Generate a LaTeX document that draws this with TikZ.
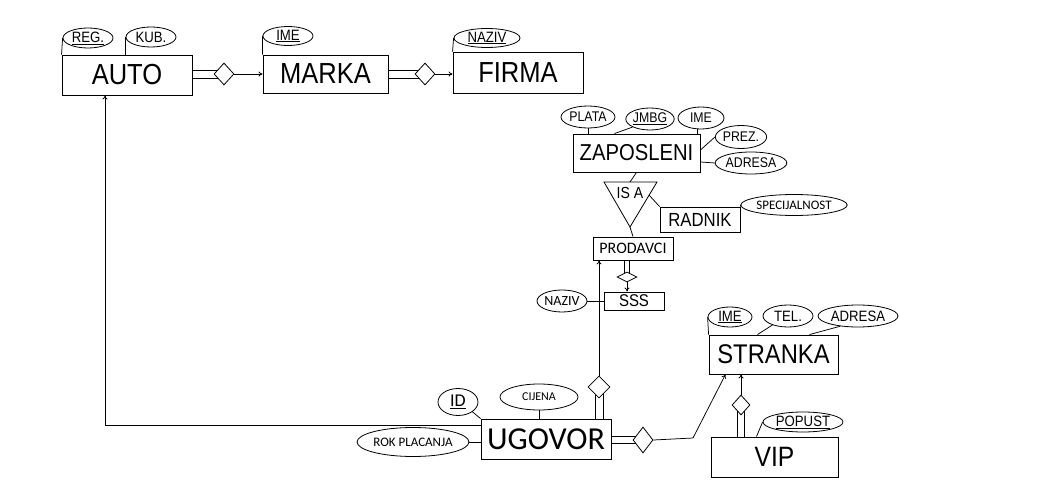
\documentclass[tikz,border=0pt]{standalone}
\usepackage{fontspec}
\setmainfont{Liberation Sans}[FakeStretch=0.88]
\newfontfamily\calfont{Carlito}
\usetikzlibrary{shapes.geometric,backgrounds,calc,arrows.meta}
\begin{document}
\begin{tikzpicture}[x=1pt,y=-1pt,
  every path/.style={line width=0.75pt},
  ent/.style={draw,fill=white,rectangle,inner sep=0pt,line width=0.9pt},
  attr/.style={draw,fill=white,ellipse,inner sep=0pt,line width=0.8pt},
  rel/.style={draw,fill=white,diamond,inner sep=0pt,line width=0.8pt},
  arr/.style={-{To[length=4pt,width=5pt]}}]
\useasboundingbox (0,0) rectangle (1037,497);
% entities
\node[ent,minimum width=130pt,minimum height=40pt,font=\fontsize{29}{29}\selectfont] (auto) at (127,75) {AUTO};
\node[ent,minimum width=125pt,minimum height=38pt,font=\fontsize{29}{29}\selectfont] (marka) at (325.5,74) {MARKA};
\node[ent,minimum width=130pt,minimum height=41pt,font=\fontsize{29}{29}\selectfont] (firma) at (518,72.5) {FIRMA};
\node[ent,minimum width=127pt,minimum height=38pt,font=\fontsize{23}{23}\selectfont] (zap) at (636.5,153) {ZAPOSLENI};
\node[ent,minimum width=80pt,minimum height=25pt,font=\fontsize{19}{19}\selectfont] (radnik) at (700,219.5) {RADNIK};
\node[ent,minimum width=80pt,minimum height=23pt,font=\calfont\fontsize{16}{16}\selectfont] (prod) at (633,248.5) {PRODAVCI};
\node[ent,minimum width=60pt,minimum height=18pt,font=\fontsize{17}{17}\selectfont] (sss) at (634,301) {SSS};
\node[ent,minimum width=130pt,minimum height=40pt,font=\calfont\fontsize{32}{32}\selectfont] (ugovor) at (546,439) {UGOVOR};
\node[ent,minimum width=129pt,minimum height=39pt,font=\fontsize{27}{27}\selectfont] (stranka) at (773.5,354.5) {STRANKA};
\node[ent,minimum width=127pt,minimum height=40pt,font=\fontsize{28}{28}\selectfont] (vip) at (774.5,457) {VIP};
% attributes
\node[attr,minimum width=50pt,minimum height=20pt,font=\fontsize{15}{15}\selectfont] (reg) at (88,38) {\underline{REG.}};
\node[attr,minimum width=50pt,minimum height=20pt,font=\fontsize{15}{15}\selectfont] (kub) at (151,37) {KUB.};
\node[attr,minimum width=50pt,minimum height=19pt,font=\fontsize{15}{15}\selectfont] (imem) at (288,36) {\underline{IME}};
\node[attr,minimum width=66pt,minimum height=19pt,font=\fontsize{15}{15}\selectfont] (naz) at (487,38) {\underline{NAZIV}};
\node[attr,minimum width=54pt,minimum height=22pt,font=\fontsize{14}{14}\selectfont] (plata) at (588,117) {PLATA};
\node[attr,minimum width=46pt,minimum height=22pt,font=\fontsize{14}{14}\selectfont] (jmbg) at (650,119) {\underline{JMBG}};
\node[attr,minimum width=46pt,minimum height=22pt,font=\fontsize{14}{14}\selectfont] (imez) at (701,118) {IME};
\node[attr,minimum width=50pt,minimum height=23pt,font=\fontsize{14}{14}\selectfont] (prez) at (741,137) {PREZ.};
\node[attr,minimum width=64pt,minimum height=22pt,font=\fontsize{14}{14}\selectfont] (adr) at (751,163) {ADRESA};
\node[attr,minimum width=98pt,minimum height=21pt,font=\calfont\fontsize{13}{13}\selectfont] (spec) at (794,205) {SPECIJALNOST};
\node[attr,minimum width=50pt,minimum height=22pt,font=\calfont\fontsize{14}{14}\selectfont] (nazs) at (562,301) {NAZIV};
\node[attr,minimum width=40pt,minimum height=27pt,font=\calfont\fontsize{18}{18}\selectfont] (id) at (458,402) {\underline{ID}};
\node[attr,minimum width=78pt,minimum height=26pt,font=\calfont\fontsize{12}{12}\selectfont] (cij) at (539,397) {CIJENA};
\node[attr,minimum width=95pt,minimum height=29pt,font=\calfont\fontsize{13}{13}\selectfont] (rok) at (413,442) {ROK PLACANJA};
\node[attr,minimum width=44pt,minimum height=20pt,font=\fontsize{15}{15}\selectfont] (imes) at (730,317) {\underline{IME}};
\node[attr,minimum width=50pt,minimum height=22pt,font=\fontsize{15}{15}\selectfont] (tel) at (788,316) {TEL.};
\node[attr,minimum width=80pt,minimum height=22pt,font=\fontsize{15}{15}\selectfont] (adrs) at (858,316) {ADRESA};
\node[attr,minimum width=80pt,minimum height=20pt,font=\fontsize{15}{15}\selectfont] (pop) at (803,422) {\underline{POPUST}};
% relationships
\node[rel,minimum width=20pt,minimum height=22pt] (d1) at (224,74) {};
\node[rel,minimum width=20pt,minimum height=22pt] (d2) at (425,74) {};
\node[rel,minimum width=20pt,minimum height=10pt] (d3) at (627,277) {};
\node[rel,minimum width=22pt,minimum height=22pt] (d4) at (599,387) {};
\node[rel,minimum width=20pt,minimum height=26pt] (d5) at (643,440) {};
\node[rel,minimum width=18pt,minimum height=20pt] (d6) at (741,405) {};
% IS A triangle
\coordinate (isatop) at (630,182);
\coordinate (isabot) at (630,227);
\coordinate (isaright) at (649,195);
\draw[line width=0.8pt] (604,182) -- (657,182) -- (isabot) -- cycle;
\node[font=\fontsize{16}{16}\selectfont] (isa) at (630,193) {IS A};
\coordinate (bend) at (693,438);
\begin{pgfonlayer}{background}
\fill[white] (0,0) rectangle (1037,497);
% top chain (double lines run into the white-filled diamonds)
\draw ([yshift=4pt]d1.center -| auto.east) -- ([yshift=4pt]d1.center);
\draw ([yshift=-4pt]d1.center -| auto.east) -- ([yshift=-4pt]d1.center);
\draw[arr] (d1.east) -- (marka.west);
\draw ([yshift=4pt]d2.center -| marka.east) -- ([yshift=4pt]d2.center);
\draw ([yshift=-4pt]d2.center -| marka.east) -- ([yshift=-4pt]d2.center);
\draw[arr] (d2.east) -- (d2.east -| firma.west);
% attribute links
\draw (reg.west) -- (auto.north west);
\draw (kub.west) -- (kub.west |- auto.north);
\draw (imem.west) -- (marka.north west);
\draw (naz.west) -- (firma.north west);
\draw (plata.south) -- (plata.south |- zap.north);
\draw (jmbg.south west) -- ([xshift=-22pt]zap.north);
\draw (imez.250) -- (imez.250 |- zap.north);
\draw (prez.west) -- ([yshift=3pt]zap.east);
\draw (adr.west) -- ([yshift=-9pt]zap.east);
\draw (spec.west) -- (radnik.north east);
\draw (nazs.east) -- (sss.west);
\draw (id.south east) -- (ugovor.north west);
\draw (cij.south) -- (cij.south |- ugovor.north);
\draw (rok.east) -- (rok.east -| ugovor.west);
\draw (imes.west) -- (stranka.north west);
\draw (tel.210) -- ([xshift=-16pt]stranka.north);
\draw (adrs.210) -- ([xshift=36pt]stranka.north);
\draw (pop.west) -- ([xshift=-18pt]vip.north);
% IS A links
\draw (zap.south) -- (isatop);
\draw (isaright) -- (radnik.north west);
\draw (isabot) -- (prod.north);
% PRODAVCI / SSS
\draw ([xshift=-2.5pt]d3.center |- prod.south) -- ([xshift=-2.5pt]d3.center);
\draw ([xshift=2.5pt]d3.center |- prod.south) -- ([xshift=2.5pt]d3.center);
\draw[arr] (d3.south) -- (d3.south |- sss.north);
% UGOVOR links
\draw[arr] (d4.north) -- (d4.north |- prod.south);
\draw ([xshift=-4pt]d4.center) -- ([xshift=-4pt]d4.center |- ugovor.north);
\draw ([xshift=4pt]d4.center) -- ([xshift=4pt]d4.center |- ugovor.north);
\draw[arr] ([yshift=14pt]ugovor.west) -| ([xshift=-22pt]auto.south);
\draw ([yshift=3.5pt]d5.center -| ugovor.east) -- ([yshift=3.5pt]d5.center);
\draw ([yshift=-3.5pt]d5.center -| ugovor.east) -- ([yshift=-3.5pt]d5.center);
\draw[arr] (d5.east) -- (bend) -- ([xshift=-48pt]stranka.south);
% VIP / STRANKA
\draw ([xshift=-3.5pt]d6.center) -- ([xshift=-3.5pt]d6.center |- vip.north);
\draw ([xshift=3.5pt]d6.center) -- ([xshift=3.5pt]d6.center |- vip.north);
\draw[arr] (d6.north) -- (d6.north |- stranka.south);
\end{pgfonlayer}
\end{tikzpicture}
\end{document}
